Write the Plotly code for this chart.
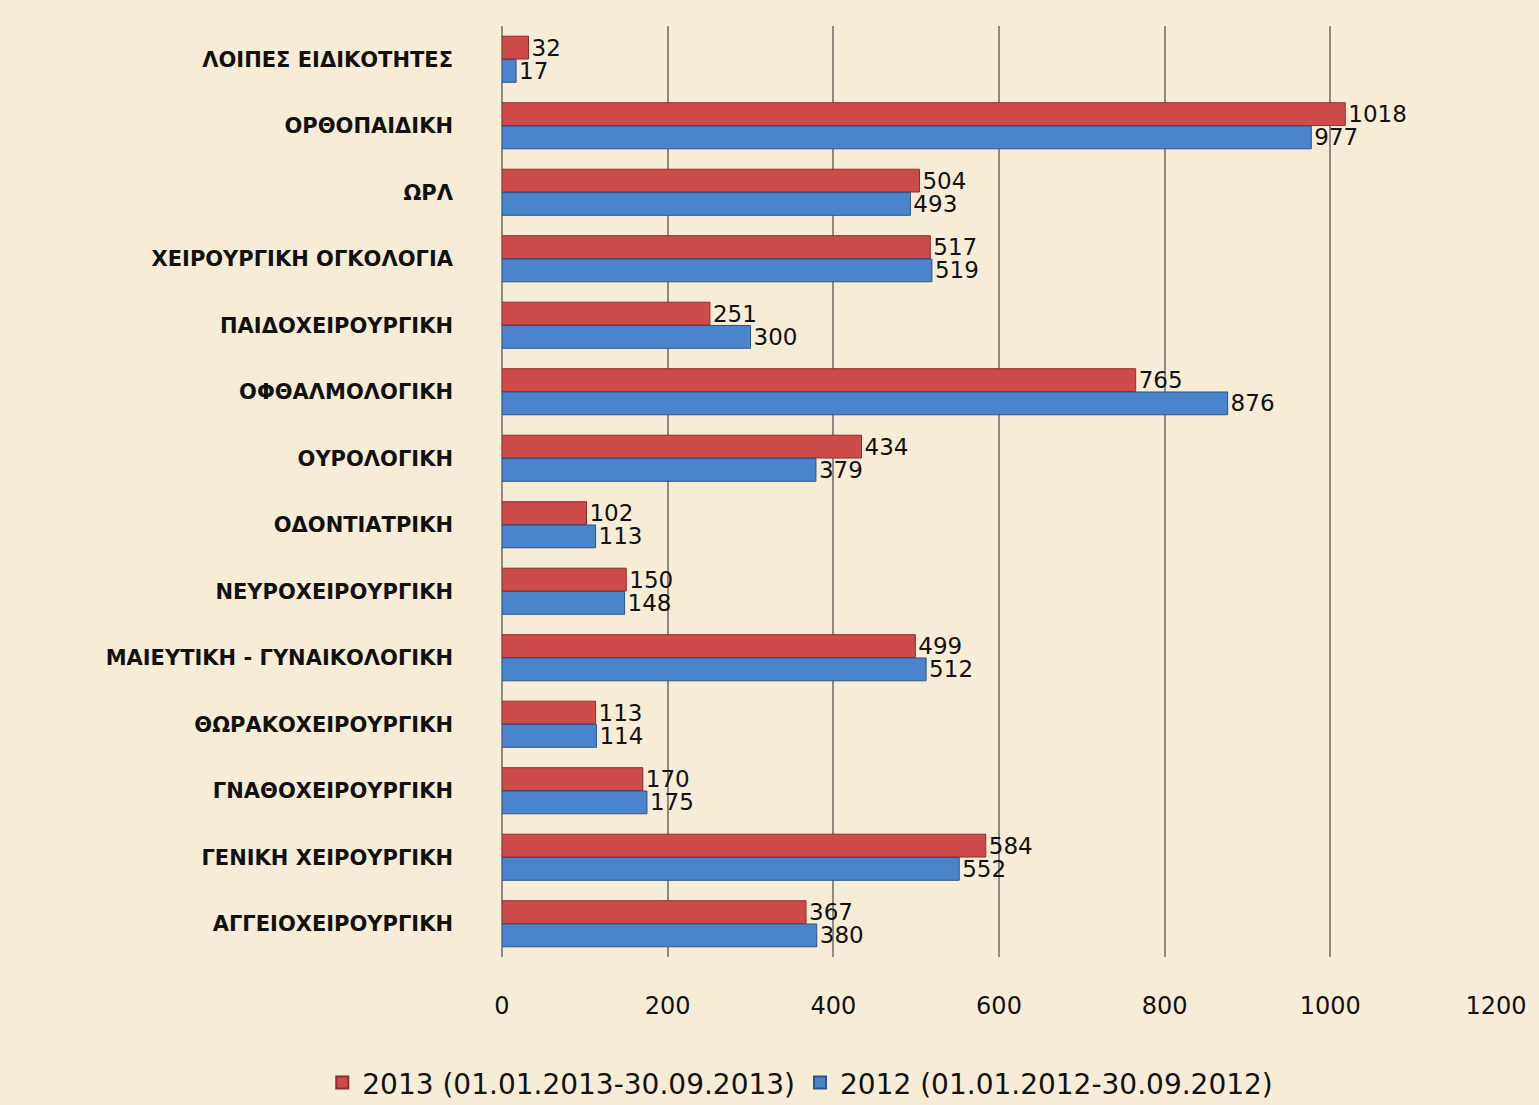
import plotly.graph_objects as go

categories = [
    "ΛΟΙΠΕΣ ΕΙΔΙΚΟΤΗΤΕΣ",
    "ΟΡΘΟΠΑΙΔΙΚΗ",
    "ΩΡΛ",
    "ΧΕΙΡΟΥΡΓΙΚΗ ΟΓΚΟΛΟΓΙΑ",
    "ΠΑΙΔΟΧΕΙΡΟΥΡΓΙΚΗ",
    "ΟΦΘΑΛΜΟΛΟΓΙΚΗ",
    "ΟΥΡΟΛΟΓΙΚΗ",
    "ΟΔΟΝΤΙΑΤΡΙΚΗ",
    "ΝΕΥΡΟΧΕΙΡΟΥΡΓΙΚΗ",
    "ΜΑΙΕΥΤΙΚΗ - ΓΥΝΑΙΚΟΛΟΓΙΚΗ",
    "ΘΩΡΑΚΟΧΕΙΡΟΥΡΓΙΚΗ",
    "ΓΝΑΘΟΧΕΙΡΟΥΡΓΙΚΗ",
    "ΓΕΝΙΚΗ ΧΕΙΡΟΥΡΓΙΚΗ",
    "ΑΓΓΕΙΟΧΕΙΡΟΥΡΓΙΚΗ",
]
values_2013 = [32, 1018, 504, 517, 251, 765, 434, 102, 150, 499, 113, 170, 584, 367]
values_2012 = [17, 977, 493, 519, 300, 876, 379, 113, 148, 512, 114, 175, 552, 380]
series_names = ["2013 (01.01.2013-30.09.2013)", "2012 (01.01.2012-30.09.2012)"]
tick_values = [0, 200, 400, 600, 800, 1000, 1200]

label_font = dict(family="DejaVu Sans", size=23, color="#111111")

fig = go.Figure()
fig.add_trace(go.Bar(
    y=categories, x=values_2013, orientation="h", name=series_names[0],
    marker=dict(color="#CD4B49", line=dict(color="#8E2E2C", width=1)),
    text=[str(v) for v in values_2013], textposition="outside",
    textfont=label_font, constraintext="none", cliponaxis=False,
))
fig.add_trace(go.Bar(
    y=categories, x=values_2012, orientation="h", name=series_names[1],
    marker=dict(color="#4A84CC", line=dict(color="#2C5487", width=1)),
    text=[str(v) for v in values_2012], textposition="outside",
    textfont=label_font, constraintext="none", cliponaxis=False,
))

fig.update_layout(
    width=1539, height=1105,
    barmode="group", bargap=0.3, bargroupgap=0.02,
    paper_bgcolor="#F7EDD6", plot_bgcolor="#F7EDD6",
    margin=dict(l=502, r=31, t=26, b=148),
    showlegend=True,
    legend=dict(
        orientation="h", xref="container", yref="container",
        x=0.52, xanchor="center", y=0.02, yanchor="middle",
        font=dict(family="DejaVu Sans", size=28, color="#111111"),
        bgcolor="rgba(0,0,0,0)", itemsizing="constant",
        itemwidth=30,
    ),
    xaxis=dict(
        range=[0, 1200], tickvals=tick_values,
        showgrid=True, gridcolor="#8E8A80", gridwidth=1.5,
        zeroline=True, zerolinecolor="#8E8A80", zerolinewidth=2,
        showline=False, ticks="",
        tickfont=dict(family="DejaVu Sans", size=24, color="#111111"),
        ticklabelstandoff=32,
    ),
    yaxis=dict(
        autorange="reversed", showgrid=False, ticks="",
        showline=False,
        tickfont=dict(family="DejaVu Sans", size=21, color="#111111", weight="bold"),
        ticklabelstandoff=48,
    ),
)

fig.write_html(
    "out.html",
    config={"displayModeBar": False},
    post_script="document.body.style.margin='0';document.body.style.background='#F7EDD6';",
)
